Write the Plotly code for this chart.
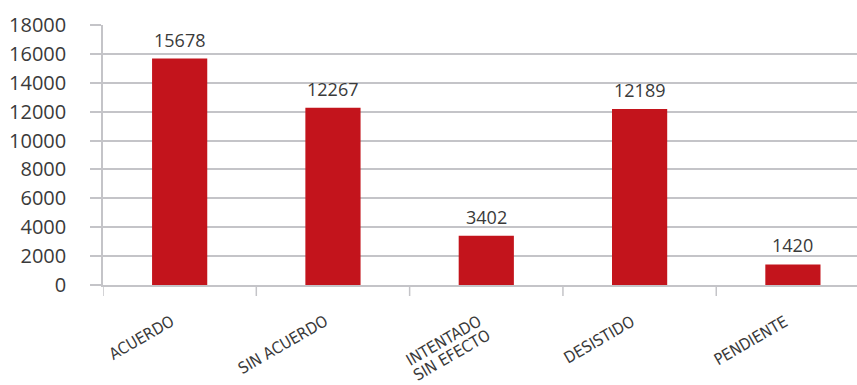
import plotly.graph_objects as go

categories = ["ACUERDO", "SIN ACUERDO", "INTENTADO<br>SIN EFECTO", "DESISTIDO", "PENDIENTE"]
values = [15678, 12267, 3402, 12189, 1420]
y_ticks = [0, 2000, 4000, 6000, 8000, 10000, 12000, 14000, 16000, 18000]

BAR = "#C3141C"
GRID = "#C4C4C8"
TEXT = "#3A3A3A"
PLOT_H = 260  # plot area height in px
LABEL_FONT = "Liberation Sans Narrow, DejaVu Sans Condensed, Open Sans"

fig = go.Figure(
    go.Bar(
        x=list(range(len(categories))),
        y=values,
        width=0.36,
        marker=dict(color=BAR, line=dict(width=0)),
        hoverinfo="x+y",
    )
)

fig.update_layout(
    width=857,
    height=385,
    margin=dict(l=103, r=0, t=25, b=100),
    paper_bgcolor="white",
    plot_bgcolor="white",
    showlegend=False,
    font=dict(family="Open Sans", color=TEXT),
)

fig.update_xaxes(
    tickmode="array",
    tickvals=list(range(len(categories))),
    showticklabels=False,
    range=[-0.5, 4.418],
    showgrid=False,
    showline=True,
    linecolor=GRID,
    linewidth=2,
    zeroline=False,
)

fig.update_yaxes(
    range=[0, 18000],
    tickmode="array",
    tickvals=y_ticks,
    ticktext=[str(t) for t in y_ticks],
    tickfont=dict(family="Open Sans", size=20, color=TEXT),
    showgrid=True,
    gridcolor=GRID,
    gridwidth=1.5,
    ticks="outside",
    ticklen=11,
    tickcolor=GRID,
    tickwidth=1.5,
    ticklabelstandoff=20,
    showline=True,
    linecolor=GRID,
    linewidth=1.5,
    zeroline=False,
)

# Category boundary ticks below the axis
for i in range(len(categories) + 1):
    xb = i - 0.5
    fig.add_shape(
        type="line", xref="x", yref="paper",
        x0=xb, x1=xb, y0=0, y1=-11 / PLOT_H,
        line=dict(color=GRID, width=1.5),
    )

# Value labels above the bars
for i, v in enumerate(values):
    fig.add_annotation(
        x=i, y=v, xref="x", yref="y",
        text=str(v), showarrow=False,
        xanchor="center", yanchor="middle", yshift=19,
        font=dict(family="Open Sans", size=18, color=TEXT),
    )

# Rotated category labels under the axis; multi-line labels are stacked
# line by line with a tight line spacing along the rotated direction
LINE_DX, LINE_DY = 8, 14
for i, c in enumerate(categories):
    for k, line in enumerate(c.split("<br>")):
        fig.add_annotation(
            x=i, y=0, xref="x", yref="paper",
            text=line, showarrow=False, textangle=-30,
            xanchor="right", yanchor="top",
            xshift=1 + k * LINE_DX, yshift=-24 - k * LINE_DY,
            font=dict(family=LABEL_FONT, size=16, color=TEXT),
        )

fig.write_html("out.html")
